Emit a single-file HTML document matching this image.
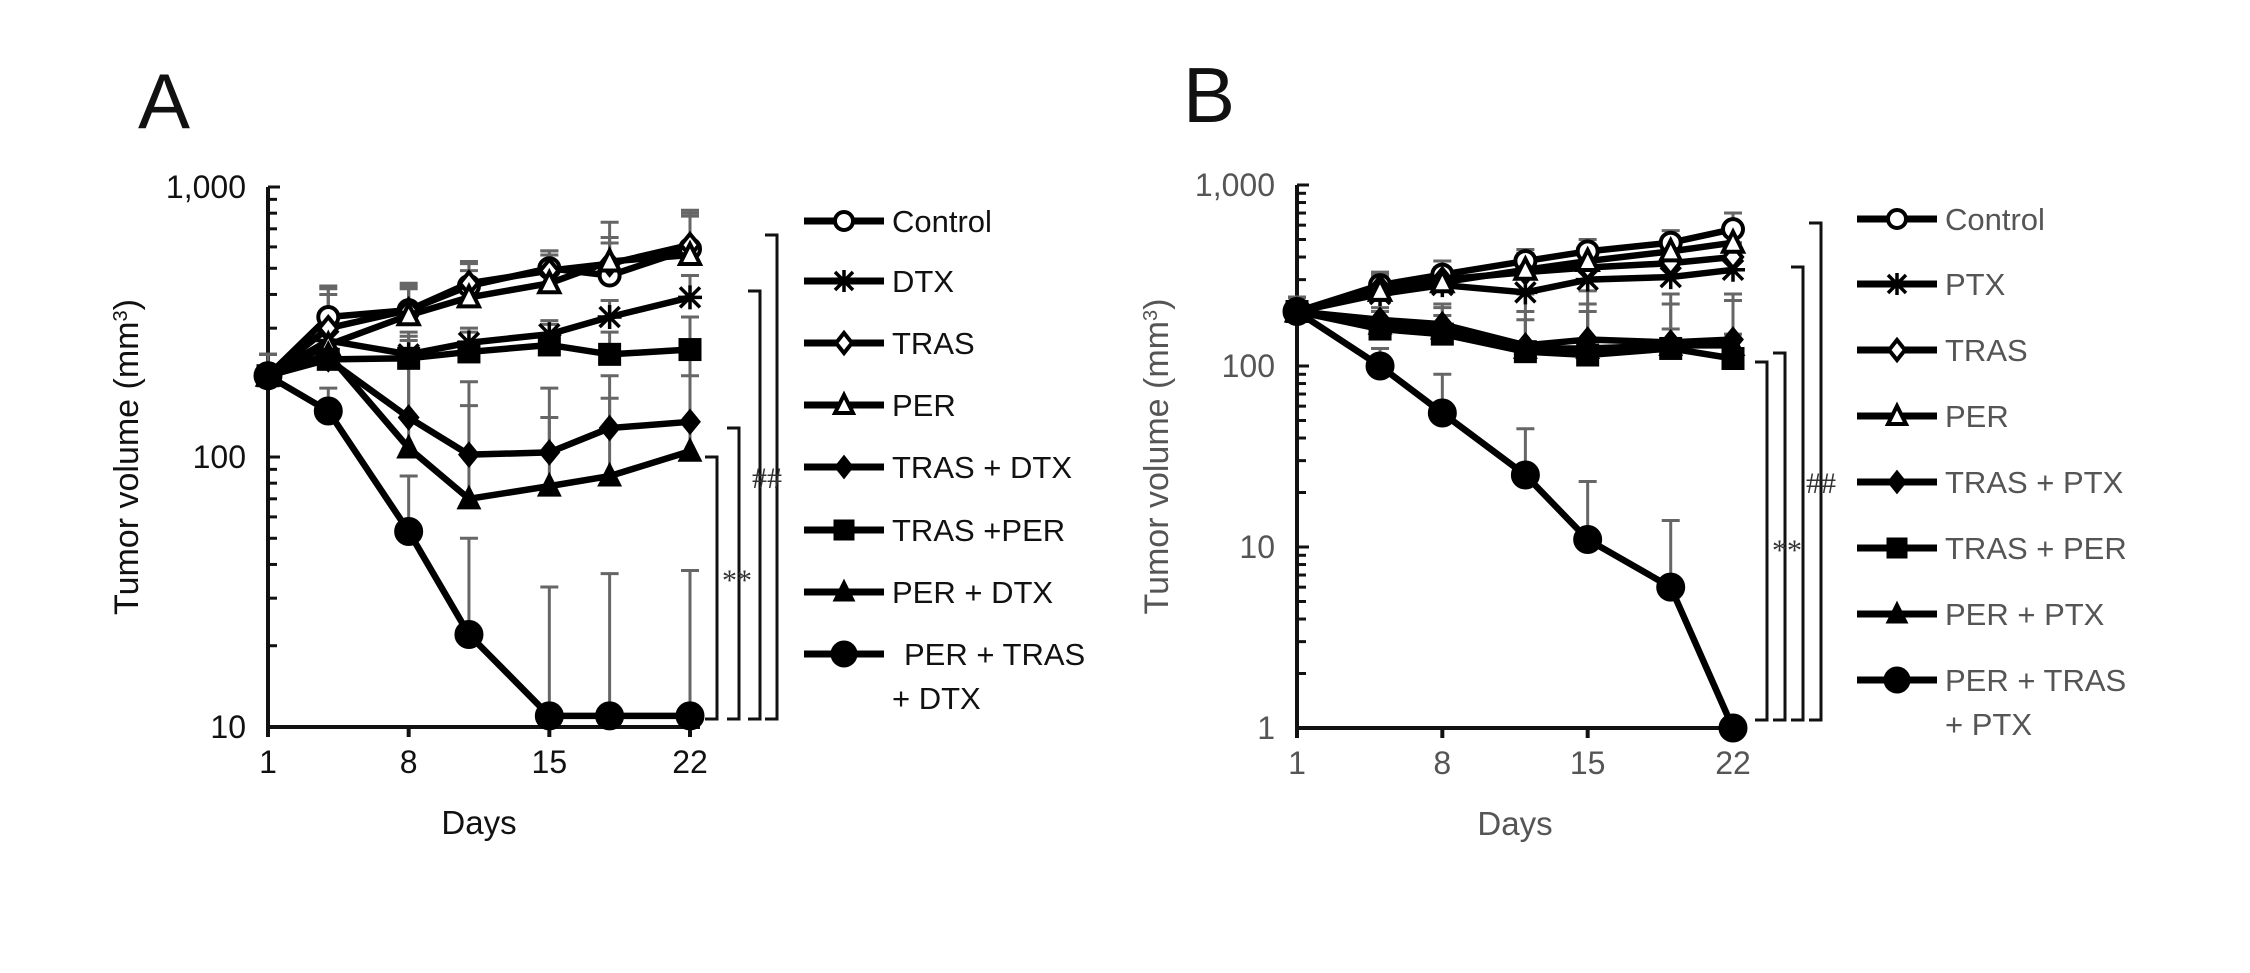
<!DOCTYPE html>
<html><head><meta charset="utf-8"><style>
html,body{margin:0;padding:0;background:#fff;}
svg{display:block;font-family:"Liberation Sans",Arial,sans-serif;}
</style></head><body>
<svg id="fig" width="2250" height="973" viewBox="0 0 2250 973"></svg>
<script>
// ---- Panel A data ----
const daysA = [1,4,8,11,15,18,22];
const namesA = ["Control","DTX","TRAS","PER","TRAS + DTX","TRAS +PER","PER + DTX","PER + TRAS|+ DTX"];
const controlA = [200,330,350,430,500,470,590];
const dtxA = [200,270,240,265,285,330,390];
const trasA = [200,300,350,440,490,520,610];
const perA = [200,260,335,390,440,530,560];
const trasDtxA = [200,230,140,102,104,128,135];
const trasPerA = [200,230,232,245,260,240,250];
const perDtxA = [200,240,108,70,78,85,105];
const tripleA = [200,148,53,22,11,11,11];
const errTopA = [[240,430,440,530,580,740,820],[240,300,290,300,320,380,470],[240,420,430,520,580,650,800],[240,400,420,490,560,620,780],[240,200,230,155,180,165,200],[240,270,270,290,310,290,330],[240,290,280,190,140,200,240],[240,180,85,50,33,37,38]];
const yTicksA = ["1,000","100","10"];
const xTicks = [1,8,15,22];
// ---- Panel B data ----
const daysB = [1,5,8,12,15,19,22];
const namesB = ["Control","PTX","TRAS","PER","TRAS + PTX","TRAS + PER","PER + PTX","PER + TRAS|+ PTX"];
const controlB = [200,280,320,380,430,480,570];
const ptxB = [200,250,280,255,300,310,340];
const trasB = [200,270,300,330,350,370,400];
const perB = [200,260,290,340,380,430,480];
const trasPtxB = [200,180,170,130,140,135,140];
const trasPerB = [200,160,150,120,115,125,110];
const perPtxB = [200,170,160,125,125,130,130];
const tripleB = [200,100,55,25,11,6,1];
const errTopB = [[240,330,380,440,500,560,700],[240,300,330,320,360,380,420],[240,320,350,400,420,450,480],[240,310,340,420,460,520,600],[240,230,220,250,260,250,250],[240,200,190,180,200,160,150],[240,210,210,200,220,220,230],[240,125,90,45,23,14,1]];
const yTicksB = ["1,000","100","10","1"];

const NS="http://www.w3.org/2000/svg";
const svg=document.getElementById('fig');
function mk(tag,attrs,parent){const e=document.createElementNS(NS,tag);for(const k in attrs)e.setAttribute(k,attrs[k]);(parent||svg).appendChild(e);return e;}
const markers=["circleOpen","star","diamondOpen","triOpen","diamond","square","tri","circle"];

function panel(P){
  const g=mk('g',{});
  
  
  const xs=d=>P.x0+(d-1)/21*(P.x1-P.x0);
  const ys=v=>P.yTop+(P.maxLog-Math.log10(v))*P.dec;
  const yBot=ys(Math.pow(10,P.minLog));
  const col=P.col;
  const L=mk('text',{x:P.lx,y:P.ly,'font-size':78,fill:'#111'},g);L.textContent=P.letter;
  
  const ax=mk('g',{stroke:'#111','stroke-width':4},g);
  
  mk('line',{x1:P.x0,y1:ys(Math.pow(10,P.maxLog)),x2:P.x0,y2:yBot},ax);
  mk('line',{x1:P.x0,y1:yBot,x2:P.x1+10,y2:yBot},ax);
  for(let e=P.minLog;e<P.maxLog;e++){for(let m=1;m<=10;m++){const y=ys(m*Math.pow(10,e));mk('line',{x1:P.x0,y1:y,x2:P.x0+(m==1||m==10?12:9),y2:y,'stroke-width':3},ax);}}
  xTicks.forEach(d=>mk('line',{x1:xs(d),y1:yBot,x2:xs(d),y2:yBot+10},ax));
  P.yTicks.forEach((t,i)=>{const tx=mk('text',{x:P.x0-22,y:ys(Math.pow(10,P.maxLog-i))+11,'font-size':32,fill:col,'text-anchor':'end'},g);tx.textContent=t;
    });
  xTicks.forEach(d=>{const tx=mk('text',{x:xs(d),y:yBot+46,'font-size':32,fill:col,'text-anchor':'middle'},g);tx.textContent=d;
    });
  const xt=mk('text',{x:(P.x0+P.x1)/2,y:yBot+107,'font-size':33,fill:col,'text-anchor':'middle'},g);xt.textContent='Days';
  
  const yt=mk('text',{x:0,y:0,'font-size':34,fill:col,'text-anchor':'middle',transform:`translate(${P.ytx},${(ys(Math.pow(10,P.maxLog))+yBot)/2}) rotate(-90)`},g);
  yt.innerHTML='Tumor volume (mm<tspan baseline-shift="super" font-size="20">3</tspan>)';
  
  const eg=mk('g',{stroke:'#666','stroke-width':3},g);
  
  P.series.forEach((s,si)=>s.forEach((v,i)=>{const x=xs(P.days[i]);const t=ys(P.err[si][i]);
    if(P.err[si][i]>v){mk('line',{x1:x,y1:ys(v),x2:x,y2:t},eg);mk('line',{x1:x-9,y1:t,x2:x+9,y2:t},eg);}}));
  P.series.forEach((s,si)=>{
    const sg=mk('g',{},g);
    
    
    mk('polyline',{points:s.map((v,i)=>xs(P.days[i])+','+ys(v)).join(' '),fill:'none',stroke:'#000','stroke-width':6.5,'stroke-linejoin':'round'},sg);
    s.forEach((v,i)=>drawMarker(sg,markers[si],xs(P.days[i]),ys(v),si==7?13:10));
  });
  P.names.forEach((n,i)=>{
    const y=P.legY[i];
    const lg=mk('g',{},g);
    
    mk('line',{x1:P.legX,y1:y,x2:P.legX+80,y2:y,stroke:'#000','stroke-width':7},lg);
    drawMarker(lg,markers[i],P.legX+40,y,i==7?12:9);
    const parts=n.split('|');
    parts.forEach((p,k)=>{const t=mk('text',{x:P.legX+88+(k==1?0:P.triOff*(parts.length>1?1:0)),y:y+11+k*44,'font-size':31,fill:col},lg);t.textContent=p;});
  });
  P.br.forEach(b=>{const bg=mk('path',{d:`M${b[0]-12},${b[1]} H${b[0]} V${yBot-8} H${b[0]-12}`,fill:'none',stroke:'#111','stroke-width':3},g);
    });
  P.sig.forEach(s=>{const t=mk('text',{x:s[0],y:s[1],'font-size':30,fill:'#333','font-family':'Liberation Serif, serif'},g);t.textContent=s[2];
    });
}
function drawMarker(g,type,x,y,r){
  const f={fill:'#000',stroke:'#000','stroke-width':3};
  const o={fill:'#fff',stroke:'#000','stroke-width':4};
  if(type=='circleOpen')mk('circle',Object.assign({cx:x,cy:y,r:r},o),g);
  else if(type=='circle')mk('circle',Object.assign({cx:x,cy:y,r:r},f),g);
  else if(type=='diamondOpen')mk('polygon',Object.assign({points:`${x},${y-r-1} ${x+r-1},${y} ${x},${y+r+1} ${x-r+1},${y}`},o),g);
  else if(type=='diamond')mk('polygon',Object.assign({points:`${x},${y-r-1} ${x+r-1},${y} ${x},${y+r+1} ${x-r+1},${y}`},f),g);
  else if(type=='square')mk('rect',Object.assign({x:x-r,y:y-r,width:2*r,height:2*r},f),g);
  else if(type=='triOpen')mk('polygon',Object.assign({points:`${x},${y-r-1} ${x+r},${y+r-1} ${x-r},${y+r-1}`},o),g);
  else if(type=='tri')mk('polygon',Object.assign({points:`${x},${y-r-1} ${x+r},${y+r-1} ${x-r},${y+r-1}`},f),g);
  else if(type=='star'){mk('path',{d:`M${x-r},${y-r}L${x+r},${y+r}M${x+r},${y-r}L${x-r},${y+r}M${x},${y-r-2}V${y+r+2}M${x-r-2},${y}H${x+r+2}`,stroke:'#000','stroke-width':3.5},g);}
}
panel({id:'a',letter:'A',lx:138,ly:128,x0:268,x1:690,yTop:187,dec:270,maxLog:3,minLog:1,days:daysA,
  series:[controlA,dtxA,trasA,perA,trasDtxA,trasPerA,perDtxA,tripleA],err:errTopA,names:namesA,col:'#111',ytx:138,
  legX:804,legY:[221,281,343,405,467,530,592,654],triOff:12,yTicks:yTicksA,
  br:[[717,457],[739,428],[760,291],[777,235]],sig:[[722,590,'**'],[752,488,'##']]});
panel({id:'b',letter:'B',lx:1183,ly:122,x0:1297,x1:1733,yTop:185,dec:181,maxLog:3,minLog:0,days:daysB,
  series:[controlB,ptxB,trasB,perB,trasPtxB,trasPerB,perPtxB,tripleB],err:errTopB,names:namesB,col:'#555',ytx:1168,
  legX:1857,legY:[219,284,350,416,482,548,614,680],triOff:0,yTicks:yTicksB,
  br:[[1767,362],[1785,353],[1803,267],[1821,223]],sig:[[1772,560,'**'],[1806,493,'##']]});
</script>
</body></html>
